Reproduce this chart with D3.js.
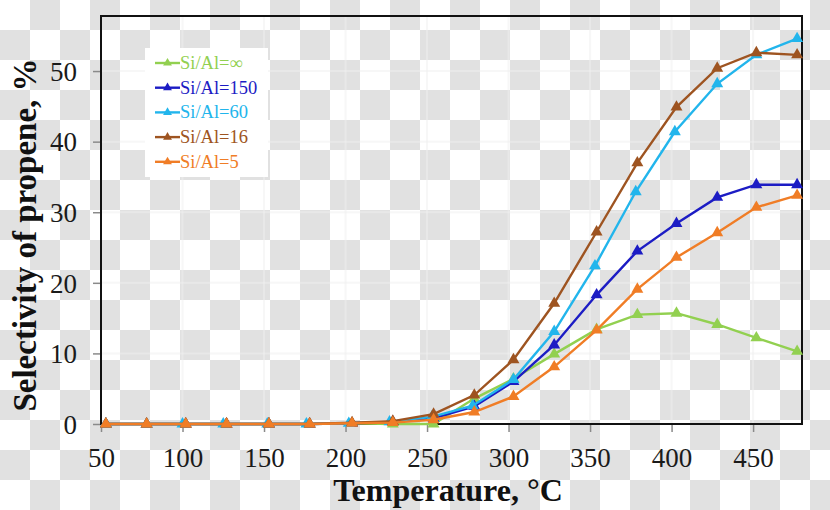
<!DOCTYPE html>
<html><head><meta charset="utf-8">
<script src="https://cdn.jsdelivr.net/npm/d3@7"></script>
<style>html,body{margin:0;padding:0;background:#fff;}svg{display:block;}</style>
</head><body>
<svg id="chart" width="830" height="510"></svg>
<script>
// ---- data ----
const temps = [53,78,102,127,153,178,204,229,254,279,303,328,354,379,403,428,452,477];
const tempsSi60 = [53,78,100,125,152,176,202,227,253,278,303,328,353,378,402,428,452,477];
const seriesNames = ["Si/Al=\u221E","Si/Al=150","Si/Al=60","Si/Al=16","Si/Al=5"];
const valsInf = [0,0,0,0,0,0,0.1,0,0,3.6,6.4,9.9,13.4,15.5,15.7,14.1,12.2,10.3];
const vals150 = [0,0,0,0,0,0,0.1,0.3,0.8,2.5,6.0,11.2,18.3,24.5,28.4,32.1,33.9,33.9];
const vals60  = [0,0,0,0,0,0,0.1,0.3,1.0,2.6,6.3,13.1,22.4,32.9,41.4,48.2,52.3,54.6];
const vals16  = [0,0,0,0,0,0,0.2,0.4,1.4,4.1,9.1,17.1,27.2,37.0,44.9,50.4,52.6,52.3];
const vals5   = [0,0,0,0,0,0,0.1,0.2,0.6,1.7,3.9,8.1,13.3,19.1,23.6,27.1,30.7,32.4];
const xTicks = [50,100,150,200,250,300,350,400,450];
const yTicks = [0,10,20,30,40,50];
const colors = ["#92d050","#1c1cc4","#22b5ec","#9e5421","#f07d26"];

const series = [
  {name: seriesNames[0], x: temps, y: valsInf, color: colors[0]},
  {name: seriesNames[1], x: temps, y: vals150, color: colors[1]},
  {name: seriesNames[2], x: tempsSi60, y: vals60, color: colors[2]},
  {name: seriesNames[3], x: temps, y: vals16, color: colors[3]},
  {name: seriesNames[4], x: temps, y: vals5, color: colors[4]}
];

const svg = d3.select("#chart");
const W = 830, H = 510;
const L = 101, R = 802, T = 16, B = 424;

// checkerboard background
const defs = svg.append("defs");
const pat = defs.append("pattern").attr("id","chk").attr("patternUnits","userSpaceOnUse")
  .attr("width",60).attr("height",60);
pat.append("rect").attr("width",60).attr("height",60).attr("fill","#ffffff");
pat.append("rect").attr("x",30).attr("y",0).attr("width",30).attr("height",30).attr("fill","#e1e1e1");
pat.append("rect").attr("x",0).attr("y",30).attr("width",30).attr("height",30).attr("fill","#e1e1e1");
svg.append("rect").attr("width",W).attr("height",H).attr("fill","url(#chk)");

const x = d3.scaleLinear().domain([50,480]).range([L,R]);
const y = d3.scaleLinear().domain([0,57.8]).range([B,T]);

// gridlines
const grid = svg.append("g");
grid.selectAll(".vg").data(xTicks.slice(1)).join("line")
  .attr("x1",d=>x(d)).attr("x2",d=>x(d)).attr("y1",T).attr("y2",B)
  .attr("stroke","#f0f0f0").attr("stroke-width",2).attr("opacity",0.5);
grid.selectAll(".hg").data(yTicks.slice(1)).join("line")
  .attr("x1",L).attr("x2",R).attr("y1",d=>y(d)).attr("y2",d=>y(d))
  .attr("stroke","#f0f0f0").attr("stroke-width",2).attr("opacity",0.5);

// axes
const font = "'Liberation Serif','Times New Roman',serif";
const xAxis = svg.append("g").attr("transform",`translate(0,${B})`)
  .call(d3.axisBottom(x).tickValues(xTicks).tickSize(8).tickPadding(16).tickFormat(d3.format("d")));
const yAxis = svg.append("g").attr("transform",`translate(${L},0)`)
  .call(d3.axisLeft(y).tickValues(yTicks).tickSize(8).tickPadding(16).tickFormat(d3.format("d")));
[xAxis,yAxis].forEach(g=>{
  g.select(".domain").remove();
  g.selectAll(".tick line").attr("stroke","#8a8a8a").attr("stroke-width",1.5);
  g.selectAll(".tick text").attr("font-family",font).attr("font-size",27).attr("fill","#1a1a1a");
});
yAxis.selectAll(".tick text").attr("dy","0.34em");

// frame
svg.append("rect").attr("x",L).attr("y",T).attr("width",R-L).attr("height",B-T)
  .attr("fill","none").attr("stroke","#111").attr("stroke-width",2);

// lines & markers
const line = d3.line().x(d=>x(d[0])).y(d=>y(d[1]));
const tri = d3.symbol().type(d3.symbolTriangle).size(62);
series.forEach(s=>{
  const pts = s.x.map((t,i)=>[t,s.y[i]]);
  svg.append("path").datum(pts).attr("d",line).attr("fill","none")
    .attr("stroke",s.color).attr("stroke-width",2.4);
  svg.append("g").selectAll("path").data(pts).join("path")
    .attr("d",tri).attr("transform",d=>`translate(${x(d[0])},${y(d[1])})`)
    .attr("fill",s.color);
});

// axis titles
svg.append("text").attr("x",448).attr("y",501).attr("text-anchor","middle")
  .attr("font-family",font).attr("font-weight","bold").attr("font-size",32).attr("fill","#111")
  .text("Temperature, \u00B0C");
svg.append("text").attr("transform","translate(36,235) rotate(-90)").attr("text-anchor","middle")
  .attr("font-family",font).attr("font-weight","bold").attr("font-size",33).attr("fill","#111")
  .text("Selectivity of propene, %");

// legend
const lg = svg.append("g");
lg.append("rect").attr("x",145).attr("y",48).attr("width",123).attr("height",129).attr("fill","#fff");
const ltri = d3.symbol().type(d3.symbolTriangle).size(34);
series.forEach((s,i)=>{
  const cy = 63 + i*24.7;
  lg.append("line").attr("x1",155).attr("x2",180).attr("y1",cy).attr("y2",cy)
    .attr("stroke",s.color).attr("stroke-width",2.4);
  lg.append("path").attr("d",ltri).attr("transform",`translate(167.5,${cy})`).attr("fill",s.color);
  lg.append("text").attr("x",180).attr("y",cy+6).attr("font-family",font).attr("font-size",18.5)
    .attr("fill",s.color).text(s.name);
});
</script>
</body></html>
